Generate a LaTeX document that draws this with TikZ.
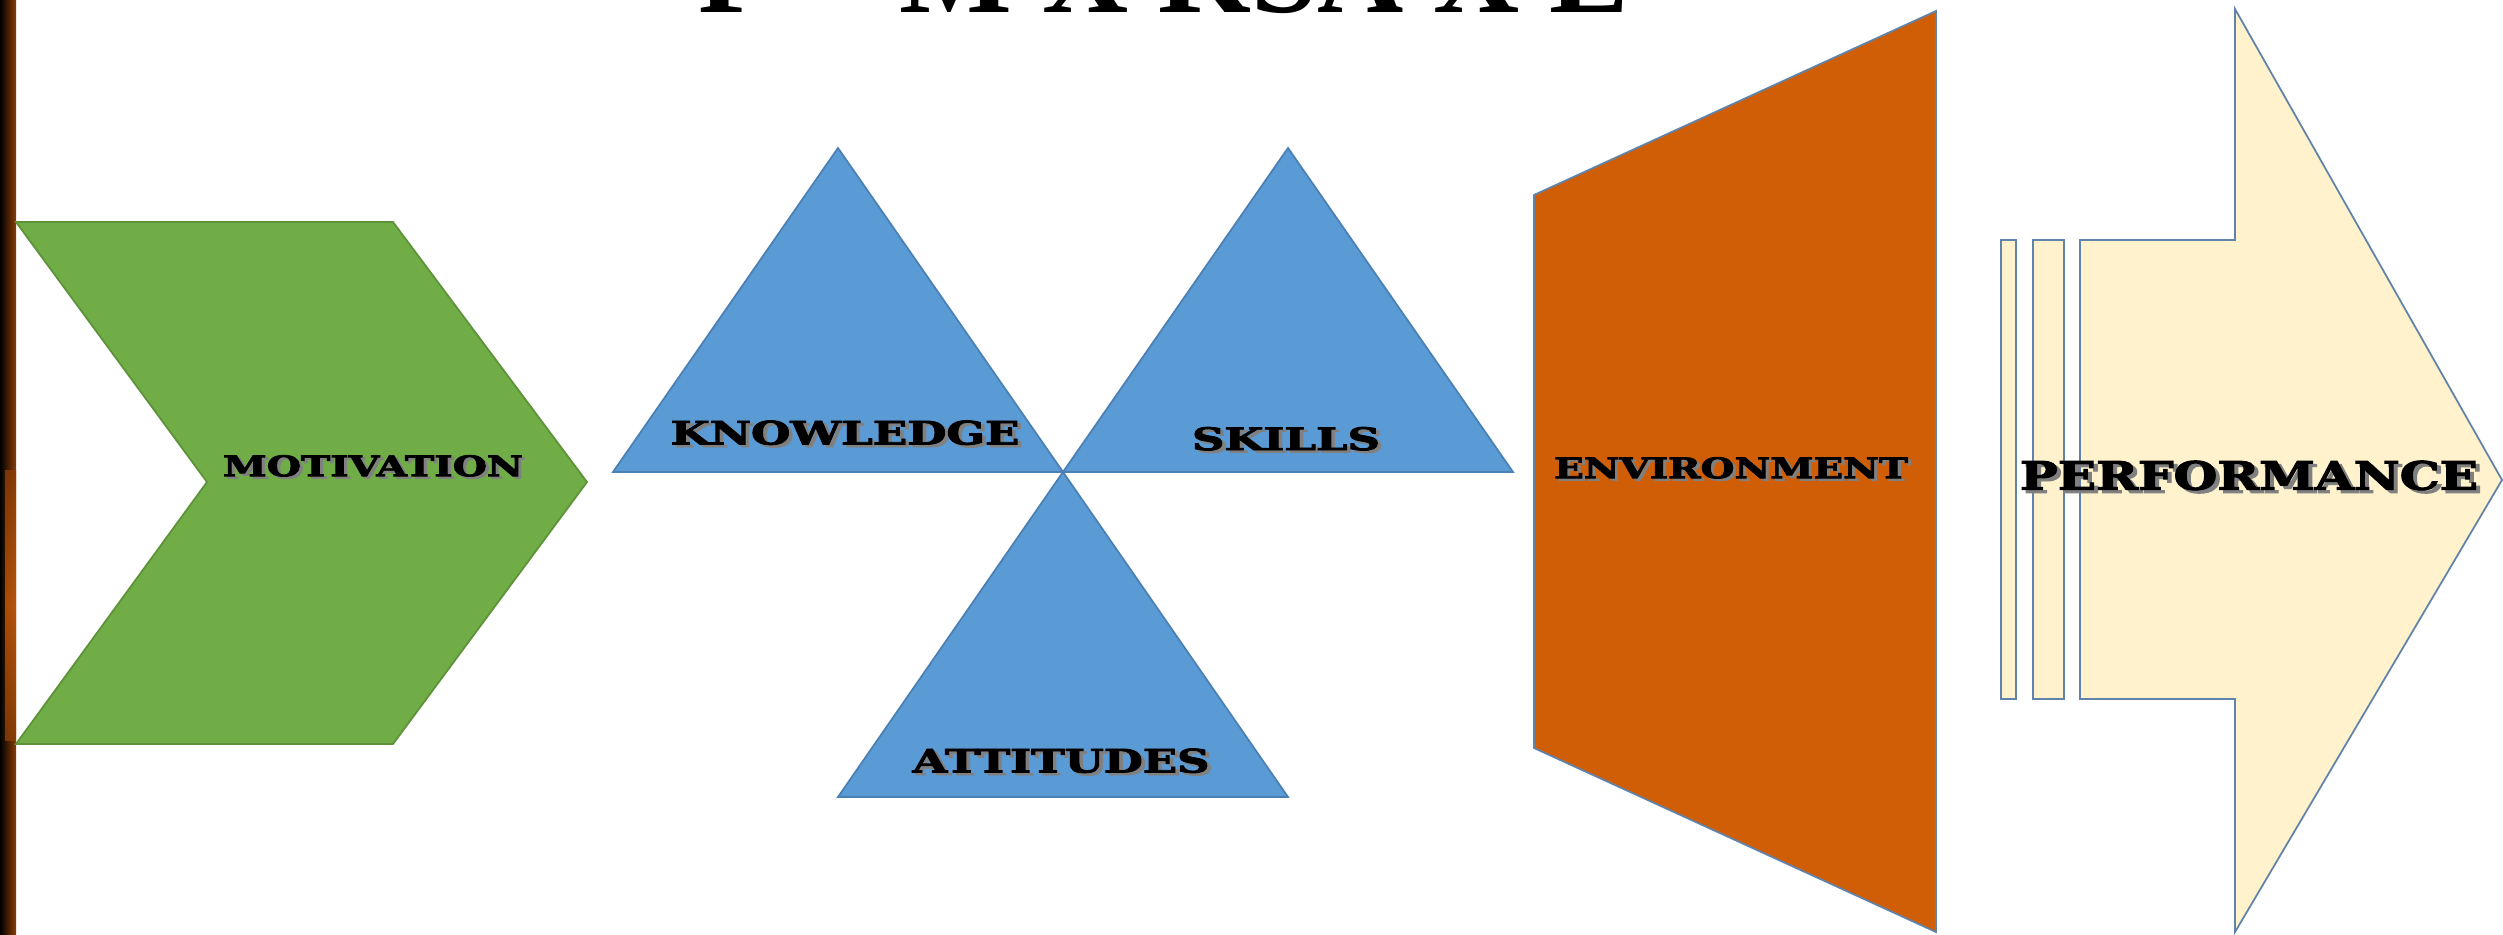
\documentclass[tikz,border=0pt]{standalone}
\usepackage{fontspec}
\usepackage{graphicx}
\setmainfont{Liberation Serif}
\newfontfamily\heavyfont[BoldFeatures={FakeBold=2.5}]{DejaVu Serif}
\definecolor{motgreen}{HTML}{70AD47}
\definecolor{motedge}{HTML}{5E9239}
\definecolor{ksablue}{HTML}{5B9BD5}
\definecolor{ksaedge}{HTML}{4B80B4}
\definecolor{envorange}{HTML}{D05E06}
\definecolor{steeledge}{HTML}{5F83AB}
\definecolor{perfcream}{HTML}{FFF2CC}
\definecolor{barbrown}{HTML}{8A3D06}
\definecolor{barglow}{HTML}{C65A0A}
% label squeezed into a box, with a soft drop shadow
\newcommand{\shadowed}[3]{\resizebox{#1}{#2}{\makebox[0pt][l]{\hspace{0.8pt}\raisebox{-0.8pt}{\color{black!50}#3}}#3}}
\tikzset{
  edge/.style={line width=0.5pt, line join=miter},
  tri/.style={edge, fill=ksablue, draw=ksaedge},
  lbl/.style={inner sep=0pt, font=\heavyfont\bfseries},
}

\begin{document}
\begin{tikzpicture}[x=0.1mm, y=-0.1mm]
    \useasboundingbox (0,0) rectangle (2503,934);
    \fill[white] (0,0) rectangle (2503,934);
    \begin{scope}
      \clip (0,0) rectangle (2503,934);
      \node[anchor=base, inner sep=0pt, font=\fontsize{34}{34}\selectfont\bfseries] (title) at (1164,12) {P = M X KSA X E};
    \end{scope}
    \shade[left color=black, right color=barbrown] (0,0) rectangle (16,934);
    \shade[top color=barbrown, bottom color=barbrown, middle color=barglow, opacity=0.8] (5,470) rectangle (16,740);

    \draw[edge, fill=motgreen, draw=motedge] (16,222) -- (393,222) -- (587,482) -- (393,744) -- (16,744) -- (207,482) -- cycle;
    \draw[tri] (613,472) -- (838,148) -- (1063,472) -- cycle;
    \draw[tri] (1063,472) -- (1288,148) -- (1513,472) -- cycle;
    \draw[tri] (838,797) -- (1063,472) -- (1288,797) -- cycle;
    \draw[edge, fill=envorange, draw=steeledge] (1534,195) -- (1936,11) -- (1936,932) -- (1534,748) -- cycle;
    \draw[edge, fill=perfcream, draw=steeledge] (2001,240) rectangle (2016,699);
    \draw[edge, fill=perfcream, draw=steeledge] (2033,240) rectangle (2064,699);
    \draw[edge, fill=perfcream, draw=steeledge] (2080,240) -- (2235,240) -- (2235,9) -- (2502,480) -- (2235,932) -- (2235,699) -- (2080,699) -- cycle;

    \node[lbl] (mot) at (373,467) {\shadowed{30mm}{2.1mm}{MOTIVATION}};
    \node[lbl] (know) at (845,434) {\shadowed{34.9mm}{2.4mm}{KNOWLEDGE}};
    \node[lbl] (skill) at (1286,440) {\shadowed{18.8mm}{2.3mm}{SKILLS}};
    \node[lbl] (att) at (1061,762) {\shadowed{29.7mm}{2.4mm}{ATTITUDES}};
    \node[lbl] (env) at (1731,469) {\shadowed{35.4mm}{2.1mm}{ENVIRONMENT}};
    \node[lbl] (perf) at (2249,477) {\shadowed{45.8mm}{2.9mm}{PERFORMANCE}};
  \end{tikzpicture}
\end{document}
